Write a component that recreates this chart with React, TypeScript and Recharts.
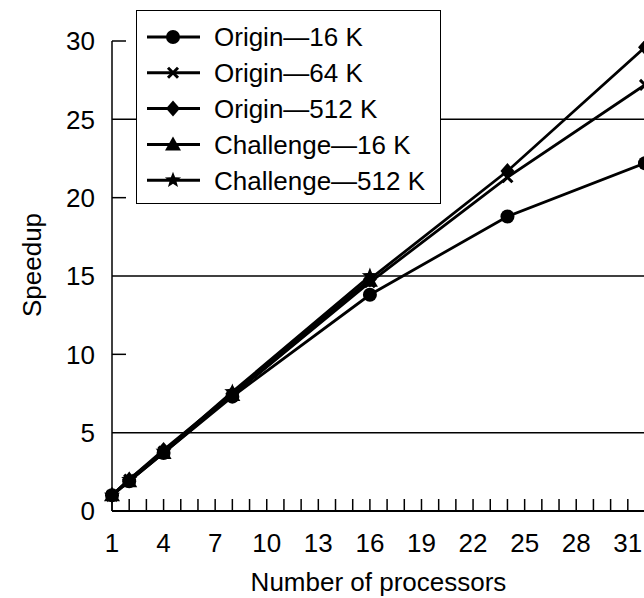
import React from 'react';
import { LineChart, Line, XAxis, YAxis, ReferenceLine, Legend } from 'recharts';

// speedup measured at each processor count
const processors = [1, 2, 4, 8, 16, 24, 32];
const origin16k = [1.0, 1.9, 3.7, 7.3, 13.8, 18.8, 22.2];
const origin64k = [1.0, 2.0, 3.8, 7.4, 14.6, 21.3, 27.2];
const origin512k = [1.0, 2.0, 3.9, 7.5, 14.8, 21.7, 29.6];
const challenge16k = [1.0, 1.9, 3.7, 7.4, 14.7];
const challenge512k = [1.0, 2.0, 3.8, 7.6, 15.0];

const xTicks = Array.from({ length: 32 }, (_, i) => i + 1);
const yTicks = [0, 5, 10, 15, 20, 25, 30];
const gridLines = [5, 15, 25];

const FONT = '"Liberation Sans", Arial, Helvetica, sans-serif';

type MarkerKind = 'circle' | 'cross' | 'diamond' | 'triangle' | 'star';

const series: { key: string; name: string; values: number[]; marker: MarkerKind }[] = [
  { key: 'o16', name: 'Origin—16 K', values: origin16k, marker: 'circle' },
  { key: 'o64', name: 'Origin—64 K', values: origin64k, marker: 'cross' },
  { key: 'o512', name: 'Origin—512 K', values: origin512k, marker: 'diamond' },
  { key: 'c16', name: 'Challenge—16 K', values: challenge16k, marker: 'triangle' },
  { key: 'c512', name: 'Challenge—512 K', values: challenge512k, marker: 'star' },
];

const data = processors.map((p, i) => {
  const row: Record<string, number | null> = { p };
  series.forEach((s) => {
    row[s.key] = i < s.values.length ? s.values[i] : null;
  });
  return row;
});

function starPoints(x: number, y: number, outer: number, inner: number) {
  const pts: string[] = [];
  for (let i = 0; i < 10; i++) {
    const r = i % 2 === 0 ? outer : inner;
    const a = -Math.PI / 2 + (i * Math.PI) / 5;
    pts.push(`${x + r * Math.cos(a)},${y + r * Math.sin(a)}`);
  }
  return pts.join(' ');
}

function Marker({ kind, x, y }: { kind: MarkerKind; x: number; y: number }) {
  switch (kind) {
    case 'circle':
      return <circle cx={x} cy={y} r={7} fill="#000" />;
    case 'cross':
      return (
        <path
          d={`M${x - 5},${y - 5}L${x + 5},${y + 5}M${x - 5},${y + 5}L${x + 5},${y - 5}`}
          stroke="#000"
          strokeWidth={3}
        />
      );
    case 'diamond':
      return <polygon points={`${x},${y - 8} ${x + 7},${y} ${x},${y + 8} ${x - 7},${y}`} fill="#000" />;
    case 'triangle':
      return <polygon points={`${x},${y - 8} ${x + 8},${y + 6} ${x - 8},${y + 6}`} fill="#000" />;
    default:
      return <polygon points={starPoints(x, y, 8.5, 3.6)} fill="#000" />;
  }
}

const makeDot = (kind: MarkerKind) => (props: any) => {
  const { cx, cy, index } = props;
  if (cx == null || cy == null || props.value == null) return <g key={`d-${index}`} />;
  return (
    <g key={`d-${index}`}>
      <Marker kind={kind} x={cx} y={cy} />
    </g>
  );
};

// every processor count gets an inward tick; every third one a number
const XTick = (props: any) => {
  const { x, y, payload } = props;
  const v = payload.value;
  return (
    <g>
      <path d={`M${x},${y}V${y - 12}`} stroke="#000" strokeWidth={1.5} fill="none" />
      {(v - 1) % 3 === 0 && (
        <text x={x} y={y + 41} textAnchor="middle" fontSize={26} fontFamily={FONT} fill="#000">
          {v}
        </text>
      )}
    </g>
  );
};

const YTick = (props: any) => {
  const { x, y, payload } = props;
  const v = payload.value;
  return (
    <g>
      {v % 10 === 0 && v !== 0 && <path d={`M${x},${y}H${x + 14}`} stroke="#000" strokeWidth={1.5} fill="none" />}
      <text x={x - 17} y={y} dy="0.36em" textAnchor="end" fontSize={26} fontFamily={FONT} fill="#000">
        {v}
      </text>
    </g>
  );
};

const renderLegend = () => (
  <div
    style={{
      width: 305,
      height: 194,
      boxSizing: 'border-box',
      border: '1.5px solid #000',
      background: '#fff',
    }}
  >
    <svg width={302} height={191}>
      {series.map((s, i) => {
        const cy = 26 + i * 35.8;
        return (
          <g key={s.key}>
            <line x1={10} y1={cy} x2={63} y2={cy} stroke="#000" strokeWidth={3} />
            <Marker kind={s.marker} x={36} y={cy} />
            <text x={77} y={cy} dy="0.36em" fontSize={26} fontFamily={FONT} fill="#000">
              {s.name}
            </text>
          </g>
        );
      })}
    </svg>
  </div>
);

export default function App() {
  return (
    <div style={{ position: 'absolute', left: 0, top: 0, width: 644, height: 598, overflow: 'hidden', background: '#fff' }}>
      <LineChart width={660} height={598} data={data} margin={{ top: 41, right: 15, bottom: 57, left: 52 }}>
        <XAxis
          dataKey="p"
          type="number"
          domain={[1, 32]}
          ticks={xTicks}
          interval={0}
          height={30}
          tickSize={0}
          tickMargin={0}
          tickLine={false}
          axisLine={{ stroke: '#000', strokeWidth: 2 }}
          tick={<XTick />}
          label={(lp: any) => {
            const vb = lp.viewBox || { x: 112, y: 511, width: 533 };
            return (
              <text x={vb.x + vb.width / 2} y={vb.y + 80} textAnchor="middle" fontSize={26} fontFamily={FONT} fill="#000">
                Number of processors
              </text>
            );
          }}
        />
        <YAxis
          type="number"
          domain={[0, 30]}
          ticks={yTicks}
          width={60}
          tickSize={0}
          tickMargin={0}
          tickLine={false}
          axisLine={{ stroke: '#000', strokeWidth: 1.5 }}
          tick={<YTick />}
          label={(lp: any) => {
            const vb = lp.viewBox || { x: 52, y: 41, height: 470 };
            const cx = vb.x - 20;
            const cy = vb.y + vb.height / 2 - 11;
            return (
              <text
                x={cx}
                y={cy}
                dy="0.36em"
                textAnchor="middle"
                transform={`rotate(-90, ${cx}, ${cy})`}
                fontSize={26}
                fontFamily={FONT}
                fill="#000"
              >
                Speedup
              </text>
            );
          }}
        />
        {gridLines.map((v) => (
          <ReferenceLine key={`g-${v}`} y={v} stroke="#000" strokeWidth={1.5} />
        ))}
        {series.map((s) => (
          <Line
            key={s.key}
            type="linear"
            dataKey={s.key}
            name={s.name}
            stroke="#000"
            strokeWidth={2.8}
            dot={makeDot(s.marker)}
            activeDot={false}
            isAnimationActive={false}
          />
        ))}
        <Legend
          layout="vertical"
          align="center"
          verticalAlign="middle"
          wrapperStyle={{ position: 'absolute', left: 136, top: 10 }}
          content={renderLegend}
        />
      </LineChart>
    </div>
  );
}
